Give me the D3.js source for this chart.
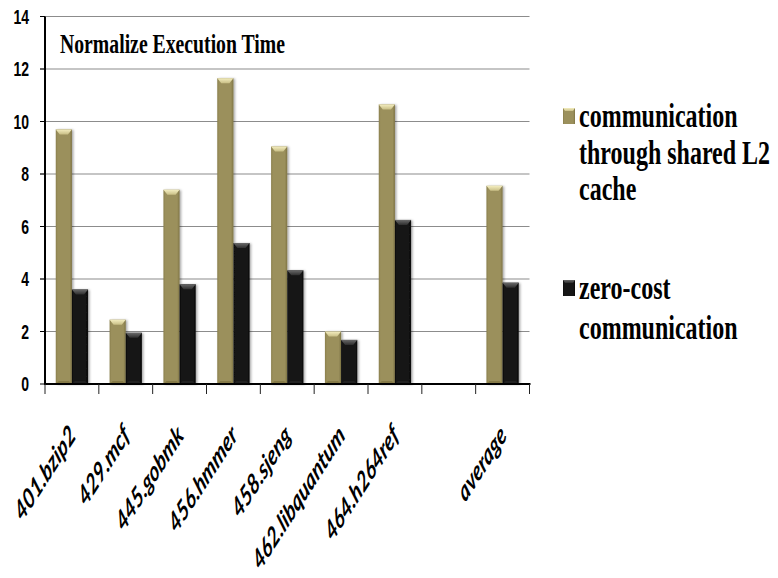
<!DOCTYPE html>
<html>
<head>
<meta charset="utf-8">
<script src="https://cdn.jsdelivr.net/npm/d3@7"></script>
<style>
  html, body { margin: 0; padding: 0; background: #fff; }
  svg { display: block; }
</style>
</head>
<body>
<svg id="chart" width="778" height="578"></svg>
<script>
// Benchmarks (one slot is left empty before the average)
const categories = ["401.bzip2", "429.mcf", "445.gobmk", "456.hmmer", "458.sjeng",
                    "462.libquantum", "464.h264ref", "", "average"];
const seriesNames = ["communication through shared L2 cache", "zero-cost communication"];
const sharedL2 = [9.7, 2.45, 7.4, 11.65, 9.05, 2.0, 10.65, null, 7.55];
const zeroCost = [3.6, 1.95, 3.8, 5.37, 4.33, 1.68, 6.25, null, 3.86];
const yTicks = [0, 2, 4, 6, 8, 10, 12, 14];
const chartTitle = "Normalize Execution Time";
const legendLines = [
  ["communication", "through shared L2", "cache"],
  ["zero-cost", "communication"]
];

const svg = d3.select("#chart");
const STRETCH = 1.4;       // lettering is drawn tall and narrow
const LABEL_STRETCH = 1.56; // slanted category names are stretched a little more

const plotLeft = 45, plotRight = 529.5, plotTop = 16.5, plotBottom = 384;

const y = d3.scaleLinear().domain([0, 14]).range([plotBottom, plotTop]);
const x = d3.scaleBand().domain(d3.range(categories.length)).range([plotLeft, plotRight]).padding(0);
const bw = x.bandwidth();
const x1 = d3.scaleBand().domain([0, 1]).range([bw * 0.2, bw * 0.8]).padding(0);

const defs = svg.append("defs");
function hGrad(id, stops) {
  const g = defs.append("linearGradient").attr("id", id).attr("x1", 0).attr("x2", 1).attr("y1", 0).attr("y2", 0);
  stops.forEach(([o, c]) => g.append("stop").attr("offset", o).attr("stop-color", c));
}
function vGrad(id, stops) {
  const g = defs.append("linearGradient").attr("id", id).attr("x1", 0).attr("x2", 0).attr("y1", 0).attr("y2", 1);
  stops.forEach(([o, c]) => g.append("stop").attr("offset", o).attr("stop-color", c));
}
hGrad("goldBody", [[0, "#8a7f4c"], [0.12, "#9b905c"], [0.85, "#9b905c"], [1, "#7e7444"]]);
hGrad("darkBody", [[0, "#0c0c0c"], [0.12, "#161616"], [0.85, "#161616"], [1, "#080808"]]);
vGrad("goldCap", [[0, "#f4eec0"], [1, "#c9bf86"]]);
vGrad("darkCap", [[0, "#6a6a6a"], [1, "#2e2e2e"]]);
const shadow = defs.append("filter").attr("id", "barShadow").attr("x", "-30%").attr("y", "-10%").attr("width", "160%").attr("height", "120%");
shadow.append("feDropShadow").attr("dx", 1.5).attr("dy", 0.5).attr("stdDeviation", 1.2).attr("flood-color", "#000").attr("flood-opacity", 0.35);

// Gridlines
svg.append("g").selectAll("line").data(yTicks.filter(t => t > 0)).join("line")
  .attr("x1", plotLeft - 5).attr("x2", plotRight)
  .attr("y1", d => y(d)).attr("y2", d => y(d))
  .attr("stroke", "#8c8c8c").attr("stroke-width", 1.2);

// Bars
const series = [
  { values: sharedL2, body: "url(#goldBody)", cap: "url(#goldCap)" },
  { values: zeroCost, body: "url(#darkBody)", cap: "url(#darkCap)" }
];
const bars = [];
series.forEach((s, si) => s.values.forEach((v, ci) => {
  if (v != null) bars.push({ si, ci, v, body: s.body, cap: s.cap });
}));
const barG = svg.append("g").selectAll("g").data(bars).join("g")
  .attr("transform", d => `translate(${x(d.ci) + x1(d.si)},0)`);
const w = x1.bandwidth();
barG.append("rect")
  .attr("x", 0).attr("width", w)
  .attr("y", d => y(d.v)).attr("height", d => y(0) - y(d.v))
  .attr("fill", d => d.body).attr("filter", "url(#barShadow)");
barG.append("path")
  .attr("d", d => {
    const t = y(d.v);
    return `M0,${t}L${w},${t}L${w - 4},${t + 5}L4,${t + 5}Z`;
  })
  .attr("fill", d => d.cap);
barG.append("path")
  .attr("d", `M0,${plotBottom}L${w},${plotBottom}L${w - 3},${plotBottom - 3}L3,${plotBottom - 3}Z`)
  .attr("fill", d => d.si === 0 ? "#857a48" : "#222");

// Y axis
svg.append("line").attr("x1", plotLeft).attr("x2", plotLeft).attr("y1", plotTop).attr("y2", plotBottom + 1)
  .attr("stroke", "#000").attr("stroke-width", 2);
svg.append("g").selectAll("line").data(yTicks).join("line")
  .attr("x1", plotLeft - 5).attr("x2", plotLeft).attr("y1", d => y(d)).attr("y2", d => y(d))
  .attr("stroke", "#000").attr("stroke-width", 1);
svg.append("g").selectAll("text").data(yTicks).join("text")
  .attr("transform", d => `translate(29,${y(d)}) scale(1,${STRETCH})`)
  .attr("dy", "0.36em").attr("text-anchor", "end")
  .attr("font-family", "'Liberation Sans', Arial, sans-serif").attr("font-weight", "bold")
  .attr("font-size", 14).attr("fill", "#000")
  .text(d => d);

// X axis
svg.append("line").attr("x1", plotLeft - 1).attr("x2", plotRight + 1).attr("y1", plotBottom).attr("y2", plotBottom)
  .attr("stroke", "#000").attr("stroke-width", 2);
const boundaries = d3.range(categories.length + 1).map(i => i < categories.length ? x(i) : x(i - 1) + bw);
svg.append("g").selectAll("line").data(boundaries).join("line")
  .attr("x1", d => d).attr("x2", d => d).attr("y1", plotBottom).attr("y2", plotBottom + 10)
  .attr("stroke", "#222").attr("stroke-width", 1);
svg.append("g").selectAll("text").data(categories.map((c, i) => ({ c, i })).filter(d => d.c)).join("text")
  .attr("transform", d => `translate(${x(d.i) + bw / 2 + 5},437) scale(1,${LABEL_STRETCH}) rotate(-45)`)
  .attr("text-anchor", "end")
  .attr("font-family", "Lato, 'Open Sans', sans-serif").attr("font-weight", "bold").attr("font-style", "italic")
  .attr("font-size", 18).attr("fill", "#000")
  .text(d => d.c);

// Title
svg.append("text")
  .attr("transform", `translate(60,53) scale(1,${STRETCH})`)
  .attr("font-family", "'Liberation Serif', 'Times New Roman', serif").attr("font-weight", "bold")
  .attr("font-size", 20).attr("textLength", 225).attr("lengthAdjust", "spacingAndGlyphs")
  .attr("fill", "#000").text(chartTitle);

// Legend
const legendItems = [
  { lines: legendLines[0], fill: "url(#goldBody)", cap: "url(#goldCap)", y0: 127, lh: 36.5 },
  { lines: legendLines[1], fill: "url(#darkBody)", cap: "url(#darkCap)", y0: 299, lh: 40 }
];
const lg = svg.append("g").selectAll("g").data(legendItems).join("g");
lg.append("rect").attr("x", 563).attr("y", d => d.y0 - 19).attr("width", 12).attr("height", 16).attr("fill", d => d.fill);
lg.append("path").attr("d", d => `M563,${d.y0 - 19}L575,${d.y0 - 19}L573,${d.y0 - 16}L565,${d.y0 - 16}Z`).attr("fill", d => d.cap);
lg.each(function (d) {
  d3.select(this).selectAll("text").data(d.lines).join("text")
    .attr("transform", (t, i) => `translate(579,${d.y0 + i * d.lh}) scale(1,${STRETCH})`)
    .attr("font-family", "'Liberation Serif', 'Times New Roman', serif").attr("font-weight", "bold")
    .attr("font-size", 24).attr("fill", "#000")
    .text(t => t);
});
</script>
</body>
</html>
